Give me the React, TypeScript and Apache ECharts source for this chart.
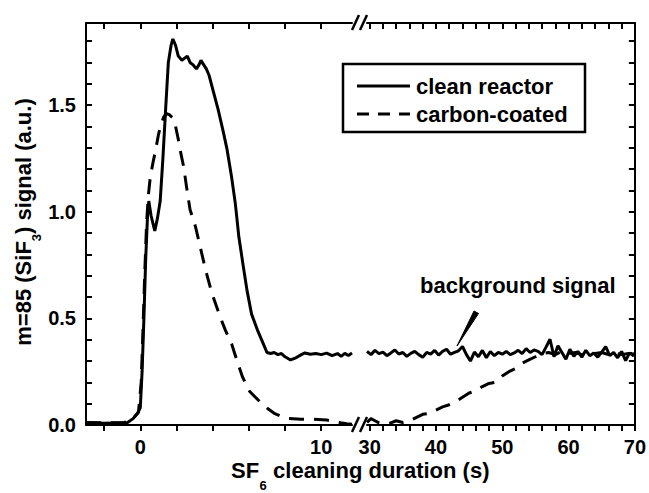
import React, { useEffect, useRef } from 'react';
import * as echarts from 'echarts';

// ---- data (time in s, signal in a.u.) ----
const cleanLeftT = [-3.0, -2.5, -2.0, -1.5, -1.0, -0.7, -0.4, -0.15, 0.0, 0.1, 0.2, 0.3, 0.4, 0.47, 0.6, 0.8, 0.95, 1.1, 1.25, 1.4, 1.55, 1.7, 1.8, 1.95, 2.1, 2.3, 2.45, 2.6, 2.75, 2.9, 3.1, 3.25, 3.35, 3.5, 3.65, 3.8, 4.05, 4.3, 4.6, 4.8, 5.05, 5.25, 5.45, 5.7, 5.9, 6.15, 6.5, 6.8, 7.0, 7.2, 7.4, 7.6, 7.8, 8.0, 8.3, 8.6, 8.9, 9.1, 9.4, 9.7, 10.0, 10.3, 10.6, 10.9, 11.1, 11.3, 11.5, 11.7];
const cleanLeftV = [0.012, 0.010, 0.008, 0.009, 0.010, 0.012, 0.03, 0.055, 0.08, 0.25, 0.5, 0.78, 0.98, 1.05, 0.98, 0.91, 0.97, 1.05, 1.25, 1.48, 1.70, 1.78, 1.81, 1.78, 1.73, 1.71, 1.72, 1.73, 1.70, 1.69, 1.67, 1.69, 1.71, 1.69, 1.67, 1.64, 1.56, 1.48, 1.37, 1.29, 1.16, 1.04, 0.88, 0.74, 0.63, 0.52, 0.44, 0.38, 0.34, 0.335, 0.34, 0.33, 0.335, 0.32, 0.305, 0.315, 0.33, 0.338, 0.332, 0.335, 0.33, 0.337, 0.325, 0.335, 0.322, 0.336, 0.326, 0.338];

const carbonLeftT = [-3.0, -1.0, -0.5, -0.1, 0.05, 0.15, 0.25, 0.35, 0.45, 0.55, 0.7, 0.85, 1.0, 1.15, 1.3, 1.45, 1.6, 1.8, 1.95, 2.1, 2.25, 2.4, 2.55, 2.75, 3.05, 3.3, 3.6, 3.95, 4.4, 4.7, 5.05, 5.35, 5.65, 6.05, 6.6, 7.0, 7.4, 8.0, 8.9, 9.6, 10.3, 10.7, 11.05, 11.4, 11.7];
const carbonLeftV = [0.01, 0.01, 0.02, 0.06, 0.2, 0.45, 0.72, 0.95, 1.08, 1.16, 1.23, 1.29, 1.36, 1.41, 1.445, 1.46, 1.455, 1.44, 1.40, 1.34, 1.27, 1.21, 1.12, 1.01, 0.93, 0.84, 0.73, 0.62, 0.51, 0.445, 0.38, 0.30, 0.225, 0.157, 0.11, 0.08, 0.055, 0.032, 0.027, 0.027, 0.023, 0.018, 0.011, 0.006, 0.004];

const cleanRightT = [29.6, 30.2, 30.8, 31.4, 32.0, 32.6, 33.2, 33.8, 34.4, 35.0, 35.6, 36.2, 36.8, 37.4, 38.0, 38.6, 39.2, 39.8, 40.4, 41.0, 41.6, 42.2, 42.8, 43.4, 44.0, 44.6, 45.2, 45.8, 46.4, 47.0, 47.6, 48.2, 48.8, 49.4, 50.0, 50.6, 51.2, 51.8, 52.4, 53.0, 53.6, 54.2, 54.8, 55.4, 56.0, 56.6, 57.2, 57.8, 58.4, 59.0, 59.6, 60.2, 60.8, 61.4, 62.0, 62.6, 63.2, 63.8, 64.4, 65.0, 65.6, 66.2, 66.8, 67.4, 68.0, 68.6, 69.2, 69.8, 70.0];
const cleanRightV = [0.345, 0.330, 0.350, 0.335, 0.342, 0.325, 0.338, 0.352, 0.333, 0.340, 0.322, 0.336, 0.345, 0.330, 0.318, 0.340, 0.332, 0.350, 0.328, 0.345, 0.355, 0.332, 0.340, 0.348, 0.368, 0.330, 0.300, 0.342, 0.320, 0.350, 0.315, 0.345, 0.325, 0.340, 0.332, 0.345, 0.330, 0.338, 0.350, 0.335, 0.358, 0.340, 0.352, 0.345, 0.330, 0.365, 0.402, 0.320, 0.372, 0.340, 0.308, 0.355, 0.322, 0.345, 0.318, 0.350, 0.325, 0.338, 0.318, 0.342, 0.368, 0.325, 0.340, 0.315, 0.345, 0.302, 0.338, 0.325, 0.340];

const carbonRightT = [29.6, 30.2, 30.8, 31.4, 32.0, 33.0, 34.0, 35.0, 36.0, 37.0, 38.0, 39.0, 40.0, 41.0, 42.0, 43.0, 44.0, 45.0, 46.0, 47.0, 48.0, 49.0, 50.0, 51.0, 52.0, 53.0, 54.0, 55.0, 56.0, 57.0, 58.0, 59.0, 60.0, 61.0, 62.0, 63.0, 64.0, 65.0, 66.0, 67.0, 68.0, 69.0, 70.0];
const carbonRightV = [0.012, 0.03, 0.02, 0.01, 0.005, 0.008, 0.02, 0.012, 0.02, 0.035, 0.05, 0.055, 0.07, 0.085, 0.095, 0.11, 0.13, 0.15, 0.16, 0.18, 0.195, 0.20, 0.23, 0.25, 0.265, 0.29, 0.305, 0.32, 0.335, 0.34, 0.33, 0.345, 0.335, 0.34, 0.33, 0.338, 0.335, 0.34, 0.33, 0.338, 0.33, 0.335, 0.335];

const leftTicks = [-2, 0, 2, 4, 6, 8, 10];
const leftLabels = [0, 10];
const rightTicks = [30, 32, 34, 36, 38, 40, 42, 44, 46, 48, 50, 52, 54, 56, 58, 60, 62, 64, 66, 68, 70];
const rightLabels = [30, 40, 50, 60, 70];
const yTicks = [0.1, 0.2, 0.3, 0.4, 0.5, 0.6, 0.7, 0.8, 0.9, 1.0, 1.1, 1.2, 1.3, 1.4, 1.5, 1.6, 1.7, 1.8];
const yLabels = [0, 0.5, 1.0, 1.5];

const seriesNames = ['clean reactor', 'carbon-coated'];
const xTitle = 'SF';
const xTitleSub = '6';
const xTitleRest = ' cleaning duration (s)';
const yTitle = 'm=85 (SiF';
const yTitleSub = '3';
const yTitleRest = ') signal (a.u.)';
const annotation = 'background signal';

const FONT = '"Liberation Sans", Arial, Helvetica, sans-serif';

function zip(t: number[], v: number[]) {
  return t.map((x, i) => [x, v[i]]);
}

export default function App() {
  const ref = useRef<HTMLDivElement>(null);
  useEffect(() => {
    const chart = echarts.init(ref.current!, null, { renderer: 'svg' });
    const axisLine = { show: true, onZero: false, lineStyle: { color: '#000', width: 2 } };
    const tickStyle = { color: '#000', width: 2 };
    const labelStyle = { color: '#000', fontSize: 20, fontWeight: 'bold', fontFamily: FONT };
    const xCommon = (grid: number, min: number, max: number, ticks: number[], labels: number[], pos: string) => ({
      type: 'value',
      gridIndex: grid,
      position: pos,
      min,
      max,
      axisLine,
      splitLine: { show: false },
      axisTick: { show: true, inside: pos === 'top', length: 6, customValues: ticks, lineStyle: tickStyle },
      axisLabel: pos === 'top'
        ? { show: false }
        : { show: true, margin: 12, customValues: labels, formatter: (v: number) => String(v), ...labelStyle },
    });
    const yCommon = (grid: number, pos: string, showLabels: boolean) => ({
      type: 'value',
      gridIndex: grid,
      position: pos,
      min: 0,
      max: 1.885,
      axisLine,
      splitLine: { show: false },
      axisTick: { show: true, inside: true, length: 6, customValues: yTicks, lineStyle: tickStyle },
      axisLabel: showLabels
        ? { show: true, margin: 10, customValues: yLabels, formatter: (v: number) => v.toFixed(1), ...labelStyle }
        : { show: false },
    });
    const lineBase = {
      type: 'line',
      showSymbol: false,
      symbol: 'none',
      smooth: false,
      silent: true,
    };
    const solid = { color: '#000', width: 3, type: 'solid' };
    const dashed = { color: '#000', width: 3, type: [15, 10] };
    const txt = { fill: '#000', fontSize: 22, fontWeight: 'bold', fontFamily: FONT };
    const leftMid = { align: 'left', verticalAlign: 'middle', textAlign: 'left', textVerticalAlign: 'middle' };

    const option: any = {
      animation: false,
      backgroundColor: '#fff',
      grid: [
        { left: 86, top: 23, width: 266, height: 402 },
        { left: 367, top: 23, width: 268, height: 402 },
      ],
      xAxis: [
        xCommon(0, -3, 11.7, leftTicks, leftLabels, 'bottom'),
        xCommon(0, -3, 11.7, leftTicks, leftLabels, 'top'),
        xCommon(1, 29.6, 70, rightTicks, rightLabels, 'bottom'),
        xCommon(1, 29.6, 70, rightTicks, rightLabels, 'top'),
      ],
      yAxis: [yCommon(0, 'left', true), yCommon(1, 'right', false)],
      series: [
        { ...lineBase, name: seriesNames[1], xAxisIndex: 0, yAxisIndex: 0, data: zip(carbonLeftT, carbonLeftV), lineStyle: dashed, itemStyle: { color: '#000' } },
        { ...lineBase, name: seriesNames[0], xAxisIndex: 0, yAxisIndex: 0, data: zip(cleanLeftT, cleanLeftV), lineStyle: solid, itemStyle: { color: '#000' } },
        { ...lineBase, name: seriesNames[1] + ' ', xAxisIndex: 2, yAxisIndex: 1, data: zip(carbonRightT, carbonRightV), lineStyle: dashed, itemStyle: { color: '#000' } },
        { ...lineBase, name: seriesNames[0] + ' ', xAxisIndex: 2, yAxisIndex: 1, data: zip(cleanRightT, cleanRightV), lineStyle: solid, itemStyle: { color: '#000' } },
      ],
      graphic: [
        // axis break marks
        { type: 'line', shape: { x1: 352, y1: 432, x2: 359, y2: 417 }, style: { stroke: '#000', lineWidth: 2.5 } },
        { type: 'line', shape: { x1: 360, y1: 432, x2: 367, y2: 417 }, style: { stroke: '#000', lineWidth: 2.5 } },
        { type: 'line', shape: { x1: 352, y1: 30, x2: 359, y2: 15 }, style: { stroke: '#000', lineWidth: 2.5 } },
        { type: 'line', shape: { x1: 360, y1: 30, x2: 367, y2: 15 }, style: { stroke: '#000', lineWidth: 2.5 } },
        // legend
        { type: 'rect', shape: { x: 343, y: 64, width: 242, height: 68 }, style: { fill: '#fff', stroke: '#000', lineWidth: 2.5 }, z: 10 },
        { type: 'line', shape: { x1: 357, y1: 86, x2: 410, y2: 86 }, style: { stroke: '#000', lineWidth: 3 }, z: 11 },
        { type: 'line', shape: { x1: 357, y1: 114, x2: 410, y2: 114 }, style: { stroke: '#000', lineWidth: 3, lineDash: [12, 9] }, z: 11 },
        { type: 'text', x: 416, y: 86, z: 11, style: { text: seriesNames[0], ...txt, ...leftMid } },
        { type: 'text', x: 416, y: 114, z: 11, style: { text: seriesNames[1], ...txt, ...leftMid } },
        // annotation
        { type: 'text', x: 420, y: 285, style: { text: annotation, ...txt, ...leftMid } },
        { type: 'polygon', shape: { points: [[474, 311], [478.5, 313.5], [457, 346]] }, style: { fill: '#000', stroke: '#000', lineWidth: 1 } },
        // x axis title (with subscript)
        { type: 'text', x: 231, y: 470, style: { text: xTitle, ...txt, ...leftMid } },
        { type: 'text', x: 259.5, y: 485, style: { text: xTitleSub, fill: '#000', fontSize: 13, fontWeight: 'bold', fontFamily: FONT, ...leftMid } },
        { type: 'text', x: 267, y: 470, style: { text: xTitleRest, ...txt, ...leftMid } },
        // y axis title (rotated, with subscript)
        {
          type: 'text', x: 23, y: 222, rotation: Math.PI / 2,
          style: {
            text: `{a|${yTitle}}{s|${yTitleSub}}{a|${yTitleRest}}`,
            align: 'center', verticalAlign: 'middle', textAlign: 'center', textVerticalAlign: 'middle',
            rich: {
              a: { ...txt, lineHeight: 40, verticalAlign: 'middle' },
              s: { fill: '#000', fontSize: 13, fontWeight: 'bold', fontFamily: FONT, verticalAlign: 'bottom' },
            },
          },
        },
      ],
    };
    chart.setOption(option);
    return () => chart.dispose();
  }, []);
  return <div ref={ref} style={{ position: 'fixed', left: 0, top: 0, width: 649, height: 493, background: '#fff' }} />;
}
